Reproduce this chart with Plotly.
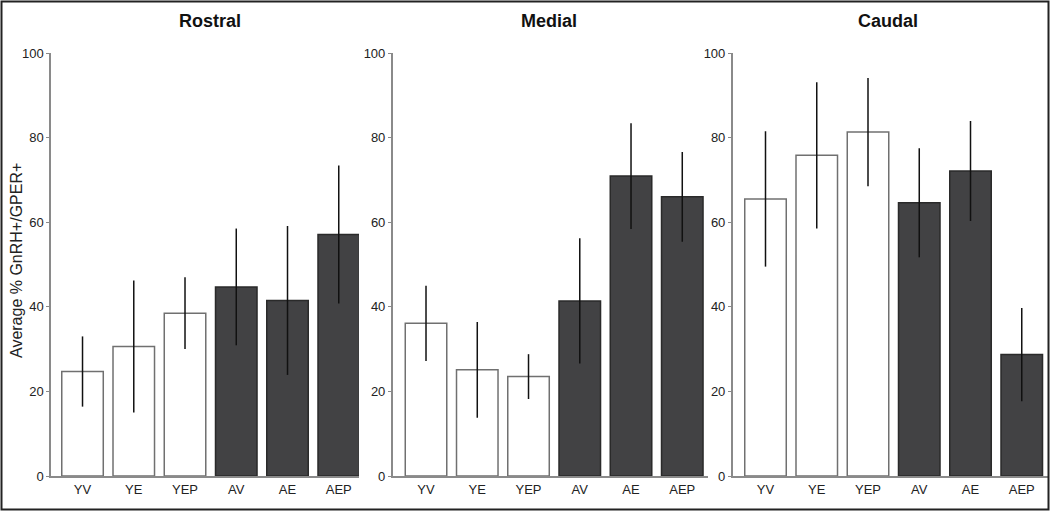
import plotly.graph_objects as go

W, H = 1050, 511

categories = ["YV", "YE", "YEP", "AV", "AE", "AEP"]
panels = ["Rostral", "Medial", "Caudal"]

rostral_mean = [24.7, 30.6, 38.5, 44.7, 41.5, 57.1]
rostral_err = [8.3, 15.6, 8.5, 13.8, 17.6, 16.3]
medial_mean = [36.1, 25.1, 23.5, 41.4, 70.9, 66.0]
medial_err = [8.9, 11.3, 5.3, 14.8, 12.5, 10.6]
caudal_mean = [65.5, 75.8, 81.3, 64.6, 72.1, 28.7]
caudal_err = [16.0, 17.3, 12.8, 12.9, 11.8, 11.0]

means = [rostral_mean, medial_mean, caudal_mean]
errs = [rostral_err, medial_err, caudal_err]

group_fill = ["white", "white", "white", "#424244", "#424244", "#424244"]
group_line = ["#707070", "#707070", "#707070", "#2a2a2a", "#2a2a2a", "#2a2a2a"]

# pixel layout (margins are zero, so paper = page pixels)
x_dom_px = [(51, 359), (392.7, 708), (732.7, 1048)]
x_ranges = [(-0.615, 5.395), (-0.65, 5.502), (-0.64, 5.512)]
title_x_px = [210, 549, 888]
y_top_px, y_bot_px = 53, 476

FONT = "Liberation Sans, Arial, Helvetica, sans-serif"
TXT = "#222222"
AXC = "#8a8a8a"

fig = go.Figure()
for i in range(3):
    sfx = "" if i == 0 else str(i + 1)
    fig.add_trace(go.Bar(
        x=categories, y=means[i],
        error_y=dict(type="data", array=errs[i], visible=True,
                     color="#111111", thickness=1.5, width=0),
        marker=dict(color=group_fill, line=dict(color=group_line, width=1.5)),
        width=0.81,
        xaxis="x" + sfx, yaxis="y" + sfx,
        showlegend=False, hoverinfo="skip",
    ))

layout = dict(
    width=W, height=H,
    margin=dict(l=0, r=0, t=0, b=0, pad=0),
    paper_bgcolor="white", plot_bgcolor="rgba(0,0,0,0)",
    font=dict(family=FONT, size=13, color=TXT),
    template="none",
    annotations=[],
    shapes=[],
)
ydom = [(H - y_bot_px) / H, (H - y_top_px) / H]
for i in range(3):
    sfx = "" if i == 0 else str(i + 1)
    layout["xaxis" + sfx] = dict(
        domain=[x_dom_px[i][0] / W, x_dom_px[i][1] / W],
        range=list(x_ranges[i]),
        anchor="y" + sfx,
        showline=True, linecolor=AXC, linewidth=2,
        ticks="", showgrid=False, zeroline=False,
        tickfont=dict(size=13, color=TXT, family=FONT),
        automargin=False, type="category",
    )
    layout["yaxis" + sfx] = dict(
        domain=ydom, range=[0, 100], dtick=20,
        anchor="x" + sfx,
        showline=True, linecolor=AXC, linewidth=1.5,
        ticks="outside", ticklen=3, tickcolor=AXC, tickwidth=1,
        showgrid=False, zeroline=False,
        tickfont=dict(size=13, color=TXT, family=FONT),
        automargin=False,
    )
    layout["annotations"].append(dict(
        text="<b>" + panels[i] + "</b>", xref="paper", yref="paper",
        x=title_x_px[i] / W, y=(H - 21) / H, xanchor="center", yanchor="middle",
        showarrow=False, font=dict(size=18, color="#111111", family=FONT),
    ))

layout["annotations"].append(dict(
    text="Average % GnRH+/GPER+", xref="paper", yref="paper",
    x=16 / W, y=(H - 261) / H, xanchor="center", yanchor="middle",
    textangle=-90, showarrow=False,
    font=dict(size=16, color=TXT, family=FONT),
))
layout["shapes"].append(dict(
    type="rect", xref="paper", yref="paper",
    x0=1.5 / W, x1=(W - 1.5) / W, y0=1.5 / H, y1=(H - 1.5) / H,
    line=dict(color="#222222", width=2), fillcolor="rgba(0,0,0,0)",
))

fig.update_layout(**layout)
fig.write_html(
    "out.html",
    config={"displayModeBar": False},
    post_script="document.body.style.margin='0';document.body.style.overflow='hidden';",
)
